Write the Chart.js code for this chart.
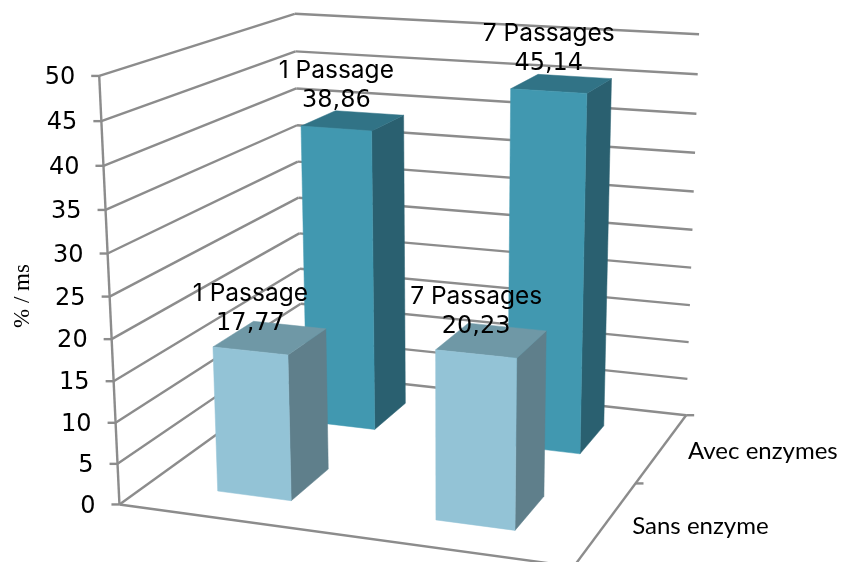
<!DOCTYPE html>
<html>
<head>
<meta charset="utf-8">
<style>
  body { margin: 0; background: #fff; }
  canvas { display: block; }
</style>
<script src="https://cdn.jsdelivr.net/npm/chart.js@4/dist/chart.umd.min.js"></script>
</head>
<body>
<canvas id="chart" width="841" height="562"></canvas>
<script>
const categories = ["1 Passage", "7 Passages"];
const depthLabels = ["Sans enzyme", "Avec enzymes"];
const sansEnzyme = [17.77, 20.23];
const avecEnzymes = [38.86, 45.14];
const yMax = 50;
const yStep = 5;
const axisTitle = "% / ms";

// where the corners of the 3D box land on the page: [u, depth, height, px, py]
const boxCorners = [
  [0, 0, 0, 117, 505],
  [0, 0, 1, 101.5, 76],
  [0, 1, 1, 292, 14],
  [1, 1, 1, 700, 34],
  [1, 1, 0, 685, 416],
  [1, 0, 0, 574, 566],
  [0, 1, 0, 305, 372],
];
const barDepth = 0.42;
const barShift = -0.002;
const gridColor = "#8c8c8c";

// least squares fit of a 3x4 projection matrix, last term fixed to 1
function fitProjection(pts) {
  const n = 11;
  const A = Array.from({ length: n }, () => new Array(n + 1).fill(0));
  const addRow = (row, rhs) => {
    for (let i = 0; i < n; i++) {
      for (let j = 0; j < n; j++) A[i][j] += row[i] * row[j];
      A[i][n] += row[i] * rhs;
    }
  };
  pts.forEach(([X, Y, Z, x, y]) => {
    addRow([X, Y, Z, 1, 0, 0, 0, 0, -x * X, -x * Y, -x * Z], x);
    addRow([0, 0, 0, 0, X, Y, Z, 1, -y * X, -y * Y, -y * Z], y);
  });
  for (let c = 0; c < n; c++) {
    let best = c;
    for (let r = c + 1; r < n; r++) if (Math.abs(A[r][c]) > Math.abs(A[best][c])) best = r;
    [A[c], A[best]] = [A[best], A[c]];
    for (let r = 0; r < n; r++) {
      if (r === c) continue;
      const f = A[r][c] / A[c][c];
      for (let k = c; k <= n; k++) A[r][k] -= f * A[c][k];
    }
  }
  return A.map((row, i) => row[n] / row[i]);
}

const P = fitProjection(boxCorners);
function project(u, d, h) {
  const w = P[8] * u + P[9] * d + P[10] * h + 1;
  return [
    (P[0] * u + P[1] * d + P[2] * h + P[3]) / w,
    (P[4] * u + P[5] * d + P[6] * h + P[7]) / w,
  ];
}

function poly(ctx, pts, fill) {
  ctx.beginPath();
  pts.forEach((p, i) => (i ? ctx.lineTo(p[0], p[1]) : ctx.moveTo(p[0], p[1])));
  ctx.closePath();
  ctx.fillStyle = fill;
  ctx.fill();
  ctx.strokeStyle = fill;
  ctx.lineWidth = 0.5;
  ctx.stroke();
}

function line(ctx, a, b) {
  ctx.beginPath();
  ctx.moveTo(a[0], a[1]);
  ctx.lineTo(b[0], b[1]);
  ctx.stroke();
}

const box3d = {
  id: "box3d",
  // the flat bars are replaced by their projected version
  beforeDatasetsDraw(chart) {
    const { ctx, chartArea: area, scales } = chart;
    const toU = (px) => (px - area.left) / area.width;
    const toH = (py) => (area.bottom - py) / area.height;

    // walls and floor
    ctx.save();
    ctx.strokeStyle = gridColor;
    ctx.lineWidth = 2.4;
    scales.y.ticks.forEach((t) => {
      const h = toH(scales.y.getPixelForValue(t.value));
      const a = project(0, 0, h);
      line(ctx, a, project(0, 1, h));
      line(ctx, project(0, 1, h), project(1, 1, h));
      line(ctx, a, [a[0] - 8, a[1]]);
      ctx.fillStyle = "#000";
      ctx.font = "24px 'DejaVu Sans'";
      ctx.textAlign = "right";
      ctx.textBaseline = "middle";
      ctx.fillText(String(t.value), a[0] - 24, a[1] + 2);
    });
    line(ctx, project(0, 0, 0), project(0, 0, 1));
    line(ctx, project(0, 0, 0), project(1, 0, 0));
    line(ctx, project(1, 0, 0), project(1, 1, 0));
    [0.5, 1].forEach((d) => {
      const a = project(1, d, 0);
      line(ctx, a, [a[0] + 8, a[1]]);
    });
    ctx.restore();

    // back row first so the front row covers it
    const labels = [];
    [1, 0].forEach((i) => {
      const ds = chart.data.datasets[i];
      const meta = chart.getDatasetMeta(i);
      const centre = toU(scales.depth.getPixelForValue(i));
      const d0 = centre - barDepth / 4;
      const d1 = centre + barDepth / 4;
      meta.data.forEach((bar, j) => {
        const u0 = toU(bar.x - bar.width / 2) + barShift;
        const u1 = toU(bar.x + bar.width / 2) + barShift;
        const h0 = toH(bar.base);
        const h1 = toH(bar.y);
        const fl = project(u0, d0, h1);
        const fr = project(u1, d0, h1);
        poly(ctx, [fr, project(u1, d1, h1), project(u1, d1, h0), project(u1, d0, h0)], ds.sideColor);
        poly(ctx, [fl, project(u0, d1, h1), project(u1, d1, h1), fr], ds.topColor);
        poly(ctx, [fl, fr, project(u1, d0, h0), project(u0, d0, h0)], ds.backgroundColor);
        labels.push({
          x: (fl[0] + fr[0]) / 2,
          y: (fl[1] + fr[1]) / 2,
          name: categories[j],
          value: String(ds.data[j]).replace(".", ","),
        });
      });
    });

    // data labels
    ctx.save();
    ctx.fillStyle = "#000";
    ctx.textAlign = "center";
    ctx.textBaseline = "alphabetic";
    labels.forEach((l) => {
      ctx.font = "24.5px Inter";
      ctx.fillText(l.name, l.x, l.y - 50);
      ctx.font = "24px 'DejaVu Sans'";
      ctx.fillText(l.value, l.x, l.y - 21);
    });

    // depth axis labels
    ctx.font = "24px Lato";
    ctx.textAlign = "left";
    depthLabels.forEach((name, i) => {
      const p = project(1, toU(scales.depth.getPixelForValue(i)), 0);
      ctx.fillText(name, p[0] + 26, p[1] + 11);
    });

    // axis title
    ctx.translate(23, 296);
    ctx.rotate(-Math.PI / 2);
    ctx.font = "23px 'Liberation Serif'";
    ctx.textAlign = "center";
    ctx.textBaseline = "middle";
    ctx.fillText(axisTitle, 0, 0);
    ctx.restore();
    return false;
  },
};

new Chart(document.getElementById("chart"), {
  type: "bar",
  data: {
    labels: categories,
    datasets: [
      {
        label: depthLabels[0],
        data: sansEnzyme,
        grouped: false,
        backgroundColor: "#93c3d6",
        sideColor: "#5f7f8b",
        topColor: "#6f98a6",
      },
      {
        label: depthLabels[1],
        data: avecEnzymes,
        grouped: false,
        backgroundColor: "#4198b0",
        sideColor: "#2a6070",
        topColor: "#317386",
      },
    ],
  },
  options: {
    responsive: false,
    animation: false,
    layout: { padding: 0 },
    datasets: { bar: { categoryPercentage: 0.345, barPercentage: 1 } },
    plugins: { legend: { display: false }, tooltip: { enabled: false } },
    scales: {
      x: { display: false, offset: true },
      depth: { type: "category", axis: "x", labels: depthLabels, display: false, offset: true },
      y: { display: false, min: 0, max: yMax, ticks: { stepSize: yStep } },
    },
  },
  plugins: [box3d],
});
</script>
</body>
</html>
